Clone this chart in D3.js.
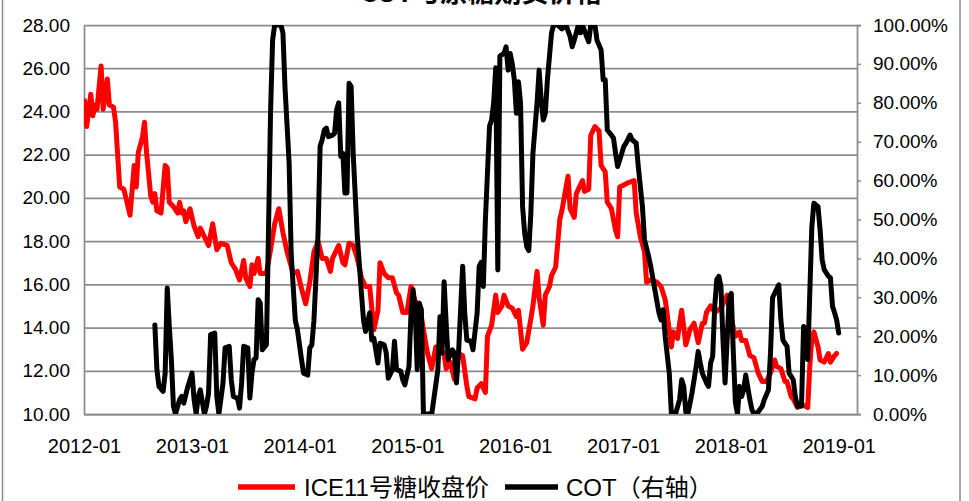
<!DOCTYPE html>
<html>
<head>
<meta charset="utf-8">
<script src="https://cdn.jsdelivr.net/npm/d3@7"></script>
<style>
  body { margin: 0; background: #fff; }
  svg { display: block; font-family: "Liberation Sans", Arial, "Noto Sans CJK SC", sans-serif; }
</style>
</head>
<body>
<svg id="chart" width="969" height="501"></svg>
<script>
// ---- data -------------------------------------------------------------
const titleText = "COT与原糖期货价格";
const legendLabels = ["ICE11号糖收盘价", "COT（右轴）"];

// weekly observations, counted in weeks from the first report date
const firstReport = "2012-01-03";

const priceWeeks = [0,1,3,4,5,6,8,9,11,12,14,15,17,19,22,24,25,26,28,29,30,32,33,34,35,37,39,40,41,43,45,46,47,48,49,51,53,55,56,58,60,62,64,66,69,71,73,75,77,78,80,81,82,84,85,88,90,92,94,96,98,101,103,105,107,109,111,113,115,117,119,120,123,125,126,128,130,132,134,136,138,140,142,143,145,147,149,151,152,154,156,158,160,162,164,166,168,170,172,174,175,177,179,181,183,185,186,189,190,192,194,195,197,199,200,202,203,205,207,209,210,212,214,216,217,219,220,222,223,225,226,228,230,231,234,235,237,238,241,242,244,245,247,249,250,252,253,255,257,258,259,261,263,266,267,269,271,272,274,277,279,281,282,284,285,287,288,289,291,293,295,297,299,300,301,303,305,308,311,313,315,317,318,320,322,324,326,328,330,332,334,335,337,339,340,342,343,345,346,348,350,351,352,353,355,356,358,360,361,363,364];
const priceValues = [24.5,23.3,24.8,23.8,24.3,24.1,26.1,24.1,25.5,24.3,24.2,23.5,20.5,20.4,19.2,21.5,20.5,22.1,22.8,23.5,22.1,20.1,19.8,20.2,19.4,19.3,21.5,21.4,19.8,19.6,19.3,19.8,19.3,19.4,18.9,19.5,18.7,18.2,18.6,18.2,17.8,18.8,17.6,17.9,17.8,17.0,16.7,16.2,17.1,16.3,15.9,16.9,16.5,17.2,16.5,16.5,17.6,18.8,19.5,18.4,17.5,16.5,16.6,15.8,15.1,16.1,17.5,18.0,17.2,17.2,16.6,17.2,17.8,17.0,16.9,17.9,17.8,17.2,16.3,15.9,15.9,13.9,14.8,17.0,16.5,16.3,16.3,15.6,15.5,14.7,14.7,15.9,15.2,15.1,13.9,12.8,12.1,13.1,13.0,12.8,12.1,12.4,11.6,12.8,12.7,11.3,10.8,10.7,11.2,11.4,11.0,13.6,14.1,15.5,14.7,15.0,15.5,15.0,14.9,14.5,14.8,13.0,13.3,14.4,15.0,16.6,15.4,14.1,15.5,15.9,16.4,16.8,19.0,19.4,21.0,19.5,19.1,20.2,20.8,20.3,20.4,22.9,23.3,23.1,21.5,21.2,19.8,19.5,18.5,18.2,20.5,20.6,20.7,20.8,19.3,18.2,17.5,16.1,16.2,16.1,15.9,15.3,14.6,13.1,13.8,13.5,14.2,14.8,13.2,13.9,14.2,13.3,14.2,14.2,14.7,15.0,14.7,14.9,15.5,14.4,13.6,13.8,13.4,13.4,12.7,12.6,11.9,11.5,11.5,11.9,12.5,12.2,12.1,11.5,11.5,10.8,10.7,10.3,10.5,10.4,10.3,12.2,13.5,13.8,13.1,12.5,12.4,12.8,12.4,12.7,12.8];

const cotWeeks = [34,35,36,38,39,40,41,42,43,44,46,47,48,49,50,52,53,54,55,56,58,59,60,61,63,64,65,67,68,70,71,72,74,75,76,77,79,80,81,82,83,84,85,86,88,89,90,91,92,93,95,96,97,99,100,102,103,105,106,108,109,110,111,113,114,115,116,117,118,120,121,122,123,124,125,126,127,128,129,130,132,134,135,136,138,139,140,142,143,145,146,147,149,150,151,153,154,155,157,158,159,160,161,162,163,164,166,168,169,171,172,173,174,175,176,178,179,180,181,183,184,185,187,188,190,191,192,193,194,196,197,198,199,200,201,203,204,205,206,207,208,209,210,211,212,213,214,215,216,217,219,220,221,222,223,224,226,227,229,231,233,235,236,237,239,240,241,243,244,245,247,248,250,251,252,253,255,256,257,258,259,261,262,264,265,267,268,270,271,273,274,276,278,279,280,281,283,284,286,288,289,290,291,292,294,296,297,298,299,301,302,303,304,305,306,307,308,309,310,311,312,313,314,315,316,317,318,319,320,322,323,324,326,328,329,331,332,333,334,336,337,338,340,341,343,344,345,347,348,349,350,351,352,353,355,356,357,358,360,361,362,363,364,365];
const cotValues = [0.229,0.114,0.071,0.058,0.105,0.324,0.225,0.139,0.020,0.0,0.037,0.045,0.028,0.050,0.071,0.105,0.037,0.0,0.045,0.062,0.0,0.020,0.054,0.204,0.208,0.045,0.0,0.080,0.170,0.174,0.088,0.045,0.041,0.015,0.080,0.174,0.170,0.041,0.105,0.140,0.144,0.294,0.285,0.165,0.178,0.465,0.773,0.961,1.0,1.0,1.0,0.98,0.84,0.645,0.41,0.24,0.217,0.14,0.105,0.10,0.17,0.178,0.24,0.465,0.688,0.705,0.73,0.735,0.713,0.717,0.722,0.782,0.80,0.662,0.67,0.568,0.568,0.85,0.842,0.67,0.456,0.31,0.242,0.212,0.26,0.19,0.195,0.131,0.182,0.178,0.157,0.092,0.114,0.187,0.114,0.11,0.088,0.075,0.122,0.26,0.32,0.268,0.114,0.285,0.268,0.0,0.0,0.0,0.037,0.114,0.25,0.157,0.34,0.234,0.14,0.165,0.157,0.08,0.157,0.38,0.26,0.19,0.187,0.165,0.26,0.38,0.39,0.328,0.50,0.74,0.756,0.80,0.89,0.37,0.92,0.927,0.944,0.884,0.927,0.90,0.859,0.773,0.854,0.80,0.533,0.465,0.43,0.42,0.516,0.67,0.80,0.884,0.807,0.756,0.773,0.859,0.979,1.0,1.0,0.99,1.0,0.97,0.944,0.961,1.0,0.98,1.0,0.97,0.957,1.0,1.0,0.961,0.936,0.859,0.859,0.73,0.717,0.709,0.67,0.636,0.653,0.688,0.696,0.717,0.705,0.696,0.636,0.533,0.448,0.405,0.38,0.32,0.26,0.242,0.268,0.20,0.105,0.003,0.0,0.037,0.088,0.071,0.005,0.0,0.054,0.122,0.161,0.131,0.105,0.08,0.071,0.131,0.148,0.277,0.346,0.354,0.328,0.19,0.08,0.19,0.30,0.31,0.157,0.03,0.0,0.071,0.045,0.062,0.10,0.037,0.011,0.0,0.005,0.02,0.037,0.062,0.157,0.30,0.31,0.332,0.242,0.19,0.174,0.105,0.088,0.045,0.02,0.02,0.225,0.217,0.14,0.31,0.482,0.542,0.533,0.473,0.396,0.371,0.354,0.35,0.277,0.26,0.242,0.208];

const priceTicks = [10, 12, 14, 16, 18, 20, 22, 24, 26, 28];
const cotTicks = [0, 0.1, 0.2, 0.3, 0.4, 0.5, 0.6, 0.7, 0.8, 0.9, 1.0];
const dateTicks = ["2012-01", "2013-01", "2014-01", "2015-01", "2016-01", "2017-01", "2018-01", "2019-01"];
const dateDomain = ["2012-01-01", "2019-03-04"];

// ---- layout -----------------------------------------------------------
const plot = { left: 84, right: 857, top: 25, bottom: 414 };
const gridColor = "#8c8c8c";
const priceColor = "#ff0000";
const cotColor = "#000000";

const svg = d3.select("#chart");
const parseDay = d3.timeParse("%Y-%m-%d");
const parseMonth = d3.timeParse("%Y-%m");
const start = parseDay(firstReport);
const weekDate = w => d3.timeDay.offset(start, 7 * w);

const price = priceWeeks.map((w, i) => ({ date: weekDate(w), v: priceValues[i] }));
const cot = cotWeeks.map((w, i) => ({ date: weekDate(w), v: cotValues[i] }));

const x = d3.scaleTime().domain(dateDomain.map(parseDay)).range([plot.left, plot.right]);
const yPrice = d3.scaleLinear().domain([10, 28]).range([plot.bottom, plot.top]);
const yCot = d3.scaleLinear().domain([0, 1]).range([plot.bottom, plot.top]);

// chart frame
svg.append("rect")
  .attr("x", 2.5).attr("y", -10).attr("width", 957.5).attr("height", 530)
  .attr("fill", "#fff").attr("stroke", "#8c8c8c").attr("stroke-width", 1.5);

// title (sits at the very top edge)
svg.append("text")
  .attr("x", 481).attr("y", 2)
  .attr("text-anchor", "middle")
  .attr("font-size", 27).attr("font-weight", "bold")
  .attr("font-family", "'Noto Sans CJK SC', sans-serif")
  .attr("fill", "#000")
  .text(titleText);

// horizontal gridlines
svg.append("g")
  .attr("transform", `translate(${plot.left},0)`)
  .call(d3.axisLeft(yPrice).tickValues(priceTicks).tickSize(-(plot.right - plot.left)).tickFormat(""))
  .call(g => g.select(".domain").remove())
  .call(g => g.selectAll("line").attr("stroke", gridColor).attr("stroke-width", 1.75));

const tickFont = g => g.selectAll("text").attr("font-size", 19).attr("fill", "#000")
  .attr("font-family", "'Liberation Sans', Arial, sans-serif");

// left axis
svg.append("g")
  .attr("transform", `translate(${plot.left},0)`)
  .call(d3.axisLeft(yPrice).tickValues(priceTicks).tickSize(0).tickPadding(14).tickFormat(d3.format(".2f")))
  .call(g => g.select(".domain").attr("stroke", gridColor).attr("stroke-width", 1.75))
  .call(tickFont);

// right axis
svg.append("g")
  .attr("transform", `translate(${plot.right},0)`)
  .call(d3.axisRight(yCot).tickValues(cotTicks).tickSize(4).tickPadding(12).tickFormat(d3.format(".2%")))
  .call(g => g.select(".domain").attr("stroke", gridColor).attr("stroke-width", 1.75))
  .call(g => g.selectAll("line").attr("stroke", gridColor).attr("stroke-width", 1.5))
  .call(tickFont);

// bottom axis
svg.append("g")
  .attr("transform", `translate(0,${plot.bottom})`)
  .call(d3.axisBottom(x).tickValues(dateTicks.map(parseMonth)).tickSize(0).tickPadding(25)
    .tickFormat(d3.timeFormat("%Y-%m")))
  .call(g => g.select(".domain").attr("stroke", gridColor).attr("stroke-width", 1.75))
  .call(tickFont)
  .call(g => g.selectAll("text").attr("font-size", 20));

// series lines, clipped to the plotting area
svg.append("clipPath").attr("id", "plot-clip")
  .append("rect")
  .attr("x", plot.left).attr("y", plot.top)
  .attr("width", plot.right - plot.left).attr("height", plot.bottom - plot.top);

const series = svg.append("g").attr("clip-path", "url(#plot-clip)");

series.append("path")
  .datum(price)
  .attr("fill", "none")
  .attr("stroke", priceColor).attr("stroke-width", 5)
  .attr("stroke-linejoin", "round").attr("stroke-linecap", "round")
  .attr("d", d3.line().x(d => x(d.date)).y(d => yPrice(d.v)));

series.append("path")
  .datum(cot)
  .attr("fill", "none")
  .attr("stroke", cotColor).attr("stroke-width", 5)
  .attr("stroke-linejoin", "round").attr("stroke-linecap", "round")
  .attr("d", d3.line().x(d => x(d.date)).y(d => yCot(d.v)));

// legend
const legend = svg.append("g").attr("font-size", 24).attr("fill", "#000");
const legendItems = [
  { label: legendLabels[0], color: priceColor, x0: 238, x1: 295, tx: 304 },
  { label: legendLabels[1], color: cotColor, x0: 505, x1: 558, tx: 566 }
];
legendItems.forEach(it => {
  legend.append("line")
    .attr("x1", it.x0).attr("x2", it.x1).attr("y1", 487).attr("y2", 487)
    .attr("stroke", it.color).attr("stroke-width", 5.5);
  legend.append("text")
    .attr("x", it.tx).attr("y", 496)
    .text(it.label);
});
</script>
</body>
</html>
